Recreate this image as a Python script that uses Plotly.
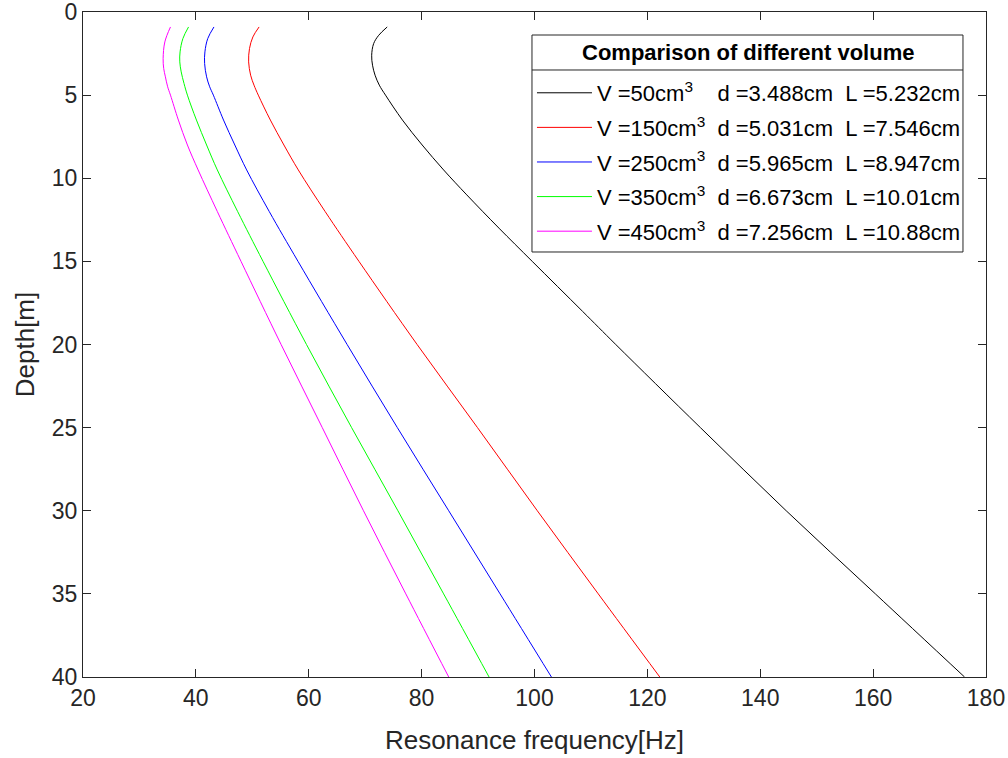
import plotly.graph_objects as go

# Depth [m] and resonance frequency [Hz]
depth_v50 = [0.9, 1.4, 1.9, 2.6, 3.2, 3.8, 4.4, 5.0, 6.5, 8.0, 9.5, 11, 13, 15, 18, 20, 25, 30, 35, 40]
freq_v50 = [73.9, 72.4, 71.5, 71.15, 71.3, 71.75, 72.5, 73.6, 76.6, 80.1, 83.9, 88.0, 93.7, 99.6, 108.5, 114.4, 129.4, 144.6, 160.4, 176.2]

depth_v150 = [0.9, 1.5, 2.2, 3.0, 3.8, 4.4, 5.0, 6.5, 8.0, 9.5, 12, 15, 20, 25, 30, 35, 40]
freq_v150 = [51.2, 50.1, 49.5, 49.35, 49.7, 50.3, 51.06, 53.2, 55.6, 58.15, 62.9, 68.9, 79.2, 89.9, 100.5, 111.3, 122.2]

depth_v250 = [0.9, 1.6, 2.4, 3.1, 3.9, 4.5, 5.0, 6.5, 8.0, 9.5, 12, 15, 20, 25, 30, 35, 40]
freq_v250 = [43.2, 42.1, 41.6, 41.55, 41.9, 42.45, 43.1, 44.9, 46.9, 49.0, 53.0, 58.1, 66.8, 75.7, 84.8, 93.9, 103.0]

depth_v350 = [0.9, 1.6, 2.4, 3.0, 3.6, 4.3, 5.0, 6.5, 8.0, 9.5, 12, 15, 20, 25, 30, 35, 40]
freq_v350 = [38.7, 37.7, 37.2, 37.15, 37.4, 37.9, 38.5, 40.1, 41.9, 43.8, 47.4, 51.9, 59.6, 67.6, 75.8, 83.9, 91.95]

depth_v450 = [0.9, 1.8, 2.8, 3.4, 3.9, 4.5, 5.0, 6.5, 8.0, 9.5, 12, 15, 20, 25, 30, 35, 40]
freq_v450 = [35.5, 34.5, 34.2, 34.3, 34.6, 35.0, 35.5, 36.9, 38.5, 40.4, 43.8, 48.0, 55.1, 62.4, 69.7, 77.2, 84.8]

x_ticks = [20, 40, 60, 80, 100, 120, 140, 160, 180]
y_ticks = [0, 5, 10, 15, 20, 25, 30, 35, 40]

NB = "\u00a0"
names = [
    "V =50cm<sup>3</sup>" + NB * 4 + "d =3.488cm" + NB * 2 + "L =5.232cm",
    "V =150cm<sup>3</sup>" + NB * 2 + "d =5.031cm" + NB * 2 + "L =7.546cm",
    "V =250cm<sup>3</sup>" + NB * 2 + "d =5.965cm" + NB * 2 + "L =8.947cm",
    "V =350cm<sup>3</sup>" + NB * 2 + "d =6.673cm" + NB * 2 + "L =10.01cm",
    "V =450cm<sup>3</sup>" + NB * 2 + "d =7.256cm" + NB * 2 + "L =10.88cm",
]
depths = [depth_v50, depth_v150, depth_v250, depth_v350, depth_v450]
series = [freq_v50, freq_v150, freq_v250, freq_v350, freq_v450]
colors = ["#000000", "#ff0000", "#0000ff", "#00ff00", "#ff00ff"]

fig = go.Figure()
for i, (nm, d, f, c) in enumerate(zip(names, depths, series, colors)):
    fig.add_trace(go.Scatter(x=f, y=d, mode="lines", name=nm, legendgroup=f"g{i}",
                             line=dict(color=c, width=1, shape="spline", smoothing=1.0)))

axis_common = dict(showline=True, linecolor="#262626", linewidth=1, mirror="ticks",
                   ticks="inside", ticklen=8, tickcolor="#262626", showgrid=False,
                   zeroline=False, automargin=False, ticklabeloverflow="allow",
                   tickfont=dict(size=23, color="#262626"))

fig.update_layout(
    width=1008, height=758,
    margin=dict(l=83, r=22, t=12, b=81),
    paper_bgcolor="white", plot_bgcolor="white",
    font=dict(family="Liberation Sans, Arial, sans-serif", color="#262626"),
    xaxis=dict(range=[20, 180], tickvals=x_ticks,
               title=dict(text="Resonance frequency[Hz]", font=dict(size=26), standoff=21),
               **axis_common),
    yaxis=dict(range=[40, 0], tickvals=y_ticks,
               title=dict(text="Depth[m]", font=dict(size=26), standoff=9),
               **axis_common),
    showlegend=True,
    legend=dict(
        x=0.4972, y=0.9098, xanchor="left", yanchor="top",
        bgcolor="rgba(0,0,0,0)", borderwidth=0,
        font=dict(size=22, color="#000000"),
        tracegroupgap=3, itemwidth=55,
    ),
)

# legend frame, title and separator
fig.add_shape(type="rect", xref="paper", yref="paper",
              x0=0.4972, x1=0.9745, y0=0.6391, y1=0.9654,
              fillcolor="white", line=dict(color="#262626", width=1), layer="above")
fig.add_shape(type="line", xref="paper", yref="paper",
              x0=0.4972, x1=0.9745, y0=0.9128, y1=0.9128,
              line=dict(color="#262626", width=1), layer="above")
fig.add_annotation(text="<b>Comparison of different volume</b>", xref="paper", yref="paper",
                   x=0.7359, y=0.9398, xanchor="center", yanchor="middle", showarrow=False,
                   font=dict(size=22, color="#000000"))

fig.write_html("out.html", config={"displayModeBar": False},
               post_script="document.body.style.margin='0px';")
